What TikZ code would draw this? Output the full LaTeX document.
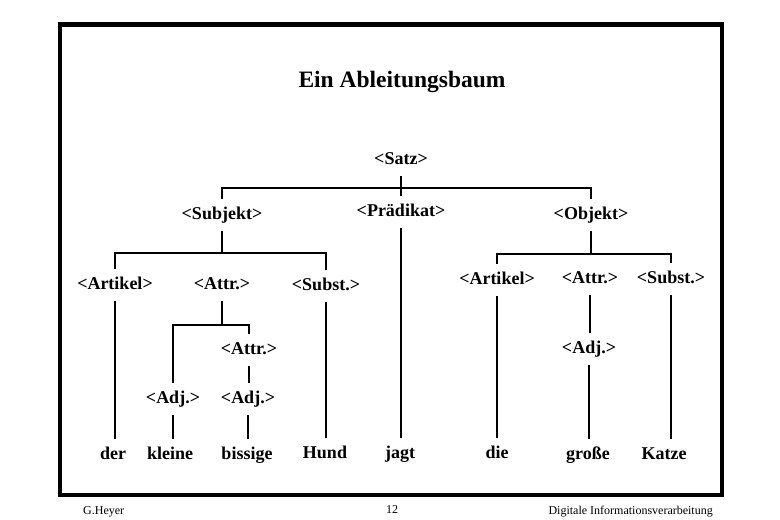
\documentclass[tikz,border=0pt]{standalone}
\usepackage{fontspec}
\setmainfont{Liberation Serif}
\usepackage{tikz}
\usetikzlibrary{positioning,calc}
\tikzset{
    every picture/.style={line join=miter},
    catnode/.style={font=\fontsize{18}{20}\selectfont\bfseries,
      inner xsep=1pt,inner ysep=0pt,outer ysep=8pt,
      text height=12pt,text depth=4pt},
    wordnode/.style={catnode},
    titlenode/.style={font=\fontsize{23.5}{26}\selectfont\bfseries,inner sep=0pt},
    footnode/.style={font=\fontsize{12}{14}\selectfont,inner sep=0pt},
    branch/.style={draw=black,line width=2.2pt},
    frameline/.style={draw=black,line width=4.5pt}
}
\begin{document}
\begin{tikzpicture}[x=1pt,y=-1pt]
  \useasboundingbox (0,0) rectangle (780,520);
  \draw[frameline] (60,24.5) rectangle (722,495);
  \node[titlenode] (title) at (402,82) {Ein Ableitungsbaum};

  \node[catnode] (satz) at (401,160) {<Satz>};
  \node[catnode] (subj) at (222,215) {<Subjekt>};
  \node[catnode] (praed) at (401,212) {<Prädikat>};
  \node[catnode] (obj) at (591,215) {<Objekt>};
  \node[catnode] (art1) at (115,285) {<Artikel>};
  \node[catnode] (attr1) at (222,285) {<Attr.>};
  \node[catnode] (subst1) at (326,286) {<Subst.>};
  \node[catnode] (attr2) at (249,350) {<Attr.>};
  \node[catnode] (adj1) at (173,399) {<Adj.>};
  \node[catnode] (adj2) at (248,399) {<Adj.>};
  \node[catnode] (art2) at (497,280) {<Artikel>};
  \node[catnode] (attr3) at (590,279) {<Attr.>};
  \node[catnode] (subst2) at (671,279) {<Subst.>};
  \node[catnode] (adj3) at (589,349) {<Adj.>};

  \node[wordnode] (der) at (113,455) {der};
  \node[wordnode] (kleine) at (170,455) {kleine};
  \node[wordnode] (bissige) at (247,455) {bissige};
  \node[wordnode] (hund) at (325,454) {Hund};
  \node[wordnode] (jagt) at (400,454) {jagt};
  \node[wordnode] (die) at (497,454) {die};
  \node[wordnode] (grosse) at (588,455) {große};
  \node[wordnode] (katze) at (664,455) {Katze};

  \draw[branch] (subj.north) -- ++(0,-11) -| (obj.north);
  \draw[branch] (subj.south) -- ++(0,22) coordinate (b1);
  \draw[branch] (art1.north) |- (b1) -| (subst1.north);
  \draw[branch] (obj.south) -- ++(0,23) coordinate (b3);
  \draw[branch] (art2.north) |- (b3) -| (subst2.north);
  \draw[branch] (attr1.south) -- ++(0,24) coordinate (b2);
  \draw[branch] (adj1.north) |- (b2) -| (attr2.north);
  \foreach \p/\c in {satz/praed,praed/jagt,art1/der,subst1/hund,attr2/adj2,
      adj1/kleine,adj2/bissige,art2/die,attr3/adj3,adj3/grosse,subst2/katze}
    \draw[branch] (\p.south) -- (\p.south |- \c.north);

  \node[footnode,anchor=west] (author) at (83,512) {G.Heyer};
  \node[footnode] (page) at (392,510) {12};
  \node[footnode,anchor=east] (course) at (713,512) {Digitale Informationsverarbeitung};
\end{tikzpicture}
\end{document}
